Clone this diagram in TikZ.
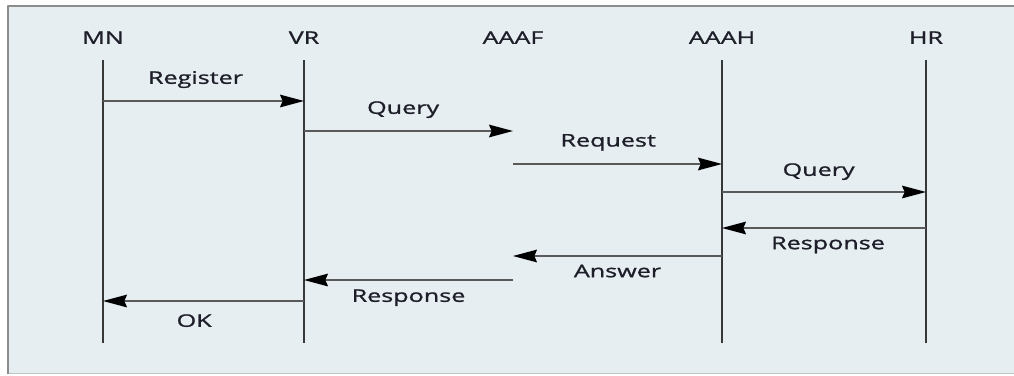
\documentclass[tikz,border=0pt]{standalone}
\usepackage{fontspec}
\newfontfamily\seqfont{Open Sans}[FakeStretch=1.45, FakeBold=1.2]
\usetikzlibrary{arrows.meta}
\definecolor{panel}{HTML}{E7EEF1}
\definecolor{rim}{HTML}{8C8C8C}
\definecolor{rimlight}{HTML}{BFC4C6}
\definecolor{ink}{HTML}{1E1E2A}
\begin{document}
\begin{tikzpicture}[x=0.75pt, y=-0.75pt, font=\seqfont\fontsize{13}{15}\selectfont, line join=round,
  >={Stealth[length=18pt, width=9.5pt, inset=2pt, color=black]},
  lifeline/.style={line width=1.5pt, draw=black!78},
  msg/.style={->, line width=1.1pt, draw=black!65},
  lbl/.style={text=ink, inner sep=0pt, text height=1.33ex, text depth=0pt}]
\useasboundingbox (0,0) rectangle (1014,375);
% panel
\fill[panel] (8,6) rectangle (1014,374);
\draw[rimlight, line width=1.2pt] (8,373.5) -- (1014,373.5);
\draw[rim, line width=2pt] (8,374) -- (8,6) -- (1014,6);
% participants
\node[lbl] (mn) at (103,40) {MN};
\node[lbl] (vr) at (304,40) {VR};
\node[lbl] (aaaf) at (513,40) {AAAF};
\node[lbl] (aaah) at (722,40) {AAAH};
\node[lbl] (hr) at (926,40) {HR};
\coordinate (top) at (0,60);
\coordinate (bot) at (0,343);
\foreach \p in {mn,vr,aaah,hr}
  \draw[lifeline] (\p |- top) -- (\p |- bot);
% messages
\foreach \y/\n in {101/1,131/2,164/3,192/4,228/5,256/6,280/7,301/8}
  \coordinate (m\n) at (0,\y);
\draw[msg] (mn |- m1) -- (vr |- m1) node[lbl, midway, yshift=15.75pt, xshift=-6pt]{Register};
\draw[msg] (vr |- m2) -- (aaaf |- m2) node[lbl, midway, yshift=15.75pt, xshift=-4pt]{Query};
\draw[msg] (aaaf |- m3) -- (aaah |- m3) node[lbl, midway, yshift=16pt, xshift=-7pt]{Request};
\draw[msg] (aaah |- m4) -- (hr |- m4) node[lbl, midway, yshift=15pt, xshift=-4pt]{Query};
\draw[msg] (hr |- m5) -- (aaah |- m5) node[lbl, midway, yshift=-13pt, xshift=3pt]{Response};
\draw[msg] (aaah |- m6) -- (aaaf |- m6) node[lbl, midway, yshift=-13pt]{Answer};
\draw[msg] (aaaf |- m7) -- (vr |- m7) node[lbl, midway, yshift=-13.5pt]{Response};
\draw[msg] (vr |- m8) -- (mn |- m8) node[lbl, midway, yshift=-16.5pt, xshift=-7pt]{OK};
\end{tikzpicture}
\end{document}
